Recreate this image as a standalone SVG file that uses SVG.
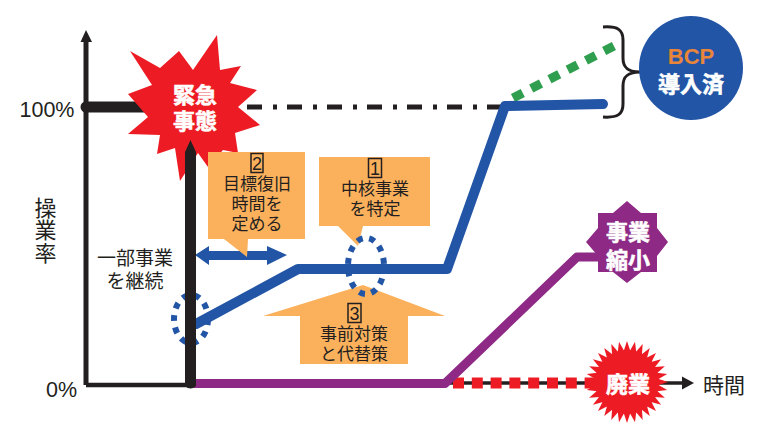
<svg xmlns="http://www.w3.org/2000/svg" width="772" height="439" viewBox="0 0 772 439">
<style>
text{font-family:"Liberation Sans","Noto Sans CJK JP",sans-serif;text-anchor:middle;fill:#231f20}
.box{fill:#fbb05c}
.lbl{font-size:17px}
.num{font-size:18px}
.numbox{fill:none;stroke:#231f20;stroke-width:1.5}
.w{fill:#fff;stroke:#fff;stroke-width:.6;font-weight:700;font-size:22px}
.side{font-size:19px}
.line{fill:none;stroke-linejoin:round}
.dot{fill:none;stroke:#2255a5;stroke-width:6;stroke-dasharray:6 6.5}
</style>
<defs>
<polygon id="sp" points="-3.3,-31 0,-41 3.3,-31" fill="#ed1c24"/>
<g id="s2"><use href="#sp"/><use href="#sp" transform="rotate(11.25)"/></g>
<g id="s4"><use href="#s2"/><use href="#s2" transform="rotate(22.5)"/></g>
<g id="s8"><use href="#s4"/><use href="#s4" transform="rotate(45)"/></g>
<g id="s16"><use href="#s8"/><use href="#s8" transform="rotate(90)"/></g>
<g id="s32"><use href="#s16"/><use href="#s16" transform="rotate(180)"/></g>
</defs>
<rect width="772" height="439" fill="#fff"/>
<g id="connectors">
<path class="line" d="M86 385V38" stroke="#231f20" stroke-width="5"/>
<polygon points="86,30 92,42 80.500,42" fill="#231f20"/>
<path class="line" d="M86 385H190" stroke="#231f20" stroke-width="4.500"/>
<path class="line" d="M86 107H155" stroke="#231f20" stroke-width="11" stroke-linecap="round"/>
<path class="line" d="M247 107H505" stroke="#231f20" stroke-width="5" stroke-dasharray="15 11 4 10"/>
<path class="line" d="M445 383H684" stroke="#231f20" stroke-width="3.500"/>
<polygon points="694,383 682,376.500 682,389.500" fill="#231f20"/>
<path class="line" d="M453 383H595" stroke="#ed1c24" stroke-width="11" stroke-dasharray="11 7.800"/>
<path class="line" d="M192 383.500H445L577 257H600" stroke="#8e2a85" stroke-width="9"/>
<path class="line" d="M513 98L616 45" stroke="#2f9e4f" stroke-width="9" stroke-dasharray="11 9.500"/>
<path class="line" d="M196 324L298 269H447L505 106L603 104" stroke="#2255a5" stroke-width="10" stroke-linecap="round"/>
<path class="line" d="M603 27C618 26 623 30 623 40V58C623 66 626 72 640 72C626 72 623 78 623 86V104C623 114 618 118 603 117" stroke="#231f20" stroke-width="3"/>
<polygon points="195,255 209,246 209,251 267,251 267,246 287,255 267,265 267,260 209,260 209,265" fill="#2255a5"/>
</g>
<g id="burst-emergency">
<polygon fill="#ed1c24" points="130,51 160,68 179,51 193,70 217,35 220,70 241,66 230,83 257,90 238,107 260,125 235,133 238,153 223,150 208,167 198,153 180,181 175,148 157,154 160,135 128,134 148,117 128,94 152,85"/>
<text class="w" x="195" y="103">緊急</text>
<text class="w" x="195" y="129">事態</text>
</g>
<g id="dotted-start">
<ellipse class="dot" cx="191" cy="319" rx="17" ry="24"/>
</g>
<path id="event-line" d="M190.500 140L196 152V386Q190.500 391 185 386V152Z" fill="#231f20"/>
<g id="step-2">
<polygon class="box" points="208,152 305,152 305,239 248,239 247,257 224,239 208,239"/>
<rect class="numbox" x="251" y="153.500" width="12" height="19"/>
<text class="num" x="257" y="170">2</text>
<text class="lbl" x="257" y="190">目標復旧</text>
<text class="lbl" x="257" y="210">時間を</text>
<text class="lbl" x="257" y="230">定める</text>
</g>
<g id="step-1">
<polygon class="box" points="319,157 430,157 430,226 363,226 358,246 338,226 319,226"/>
<rect class="numbox" x="368.500" y="158.500" width="13" height="19"/>
<text class="num" x="375" y="175">1</text>
<text class="lbl" x="375" y="195">中核事業</text>
<text class="lbl" x="375" y="215">を特定</text>
</g>
<g id="step-3">
<polygon class="box" points="363,285 445,316 408,316 408,364 300,364 300,316 263,316"/>
<rect class="numbox" x="348" y="303.500" width="13" height="19"/>
<text class="num" x="354.500" y="320">3</text>
<text class="lbl" x="354" y="340">事前対策</text>
<text class="lbl" x="354" y="360">と代替策</text>
</g>
<g id="dotted-core">
<ellipse class="dot" cx="366" cy="266" rx="18" ry="28"/>
</g>
<g id="bcp">
<circle cx="691" cy="68" r="52" fill="#2255a5"/>
<text x="691" y="64" font-size="22" font-weight="700" style="fill:#e8853a">BCP</text>
<text class="w" x="691" y="92">導入済</text>
</g>
<g id="shrink">
<polygon fill="#8e2a85" points="627,201 641,213 657,213 657,228 668,242 657,256 657,272 641,272 627,283 613,272 598,272 598,256 586,242 598,228 598,213 613,213"/>
<text class="w" x="628" y="240">事業</text>
<text class="w" x="628" y="268">縮小</text>
</g>
<g id="closure">
<circle cx="627" cy="382" r="32" fill="#ed1c24"/>
<use href="#s32" transform="translate(627 382)"/>
<text class="w" x="628" y="392">廃業</text>
</g>
<g id="labels">
<text x="47" y="117" font-size="21.500">100%</text>
<text x="61.500" y="397" font-size="21.500">0%</text>
<text x="43" y="230" font-size="22" style="writing-mode:vertical-rl;letter-spacing:.5px">操業率</text>
<text class="side" x="135" y="265">一部事業</text>
<text class="side" x="135" y="288">を継続</text>
<text x="724" y="393" font-size="21">時間</text>
</g>
</svg>
